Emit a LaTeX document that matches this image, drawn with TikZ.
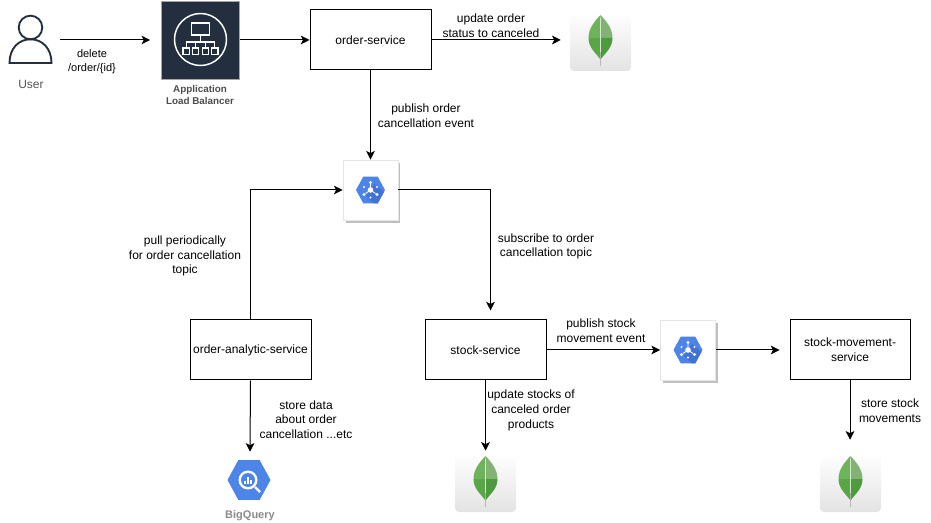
\documentclass[tikz,border=0pt]{standalone}
\usepackage{fontspec}
\setmainfont{Liberation Sans}
\usetikzlibrary{arrows.meta,shapes.geometric,calc}
\definecolor{albnavy}{HTML}{232F3E}
\definecolor{gblue}{HTML}{4D84E8}
\definecolor{gbluedark}{HTML}{4172D6}
\definecolor{gtext}{HTML}{8A8A8A}
\definecolor{usertext}{HTML}{555555}
\definecolor{usericon}{HTML}{232F3E}
\definecolor{leafA}{HTML}{6DB35A}
\definecolor{leafB}{HTML}{5AA548}
\definecolor{leafC}{HTML}{82B274}
\definecolor{leafD}{HTML}{4E9A3F}
\tikzset{
 x=0.75pt,y=-0.75pt,
 every node/.style={font=\fontsize{9}{11}\selectfont,inner sep=0pt,align=center},
 svc/.style={draw=black,line width=0.75pt,fill=white,minimum width=90.75pt,minimum height=45pt},
 flow/.style={draw=black,line width=0.75pt,-{Stealth[length=6.5pt,width=6.5pt,inset=1.6pt]}},
 lbl/.style={text=black},
 ghost/.style={draw=none,fill=none},
 card/.style={draw=black!10,line width=0.6pt,fill=white,minimum width=41.25pt,minimum height=45pt},
 cardshadow/.style={fill=black!25,draw=none},
 mongobox/.style={draw=none,minimum width=45.75pt,minimum height=44.25pt},
}
\newcommand{\hexpath}[3]{%
 ($(#1,#2)+(-#3,0)$) -- ($(#1,#2)+(-#3*0.5,-#3*0.92)$) -- ($(#1,#2)+(#3*0.5,-#3*0.92)$) -- ($(#1,#2)+(#3,0)$) -- ($(#1,#2)+(#3*0.5,#3*0.92)$) -- ($(#1,#2)+(-#3*0.5,#3*0.92)$) -- cycle}
\newcommand{\pubsubicon}[2]{%
 \fill[gblue] \hexpath{#1}{#2}{14.5};
 \begin{scope}
  \clip \hexpath{#1}{#2}{14.5};
  \fill[gbluedark] ($(#1,#2)+(4,-6)$) -- ($(#1,#2)+(16,4)$) -- ($(#1,#2)+(6,16)$) -- ($(#1,#2)+(-4,6)$) -- cycle;
 \end{scope}
 \begin{scope}[shift={(#1,#2)}]
  \draw[white,line width=0.6pt] (0,0) -- (0,-6) (0,0) -- (-5,3.5) (0,0) -- (5,3.5);
  \fill[white] (0,0) circle (2.8) (0,-7.5) circle (1.7) (-6.5,4.5) circle (1.7) (6.5,4.5) circle (1.7)
   (-6.5,-3) circle (1.2) (6.5,-3) circle (1.2) (0,7.5) circle (1.2);
 \end{scope}}
\newcommand{\mongocard}[2]{%
 \begin{scope}[shift={(#1,#2)}]
  \shade[rounded corners=3pt,top color=white,bottom color=black!11] (0,0) rectangle (61,59);
  \draw[black!28,line width=0.75pt] (30.5,40) -- (30.5,54);
  \fill[leafC] (30.5,3) .. controls (36,9) and (42.5,16) .. (42.5,26) -- (30.5,26) -- cycle;
  \fill[leafA] (30.5,3) .. controls (25,9) and (18.5,16) .. (18.5,26) -- (30.5,26) -- cycle;
  \fill[leafD] (42.5,26) .. controls (42.5,36) and (35,41) .. (31,47) -- (30.5,26) -- cycle;
  \fill[leafB] (18.5,26) .. controls (18.5,36) and (26,41) .. (30,47) -- (30.5,26) -- cycle;
  \draw[white!70!leafA,line width=0.5pt] (30.5,6) -- (30.5,40);
 \end{scope}}
\begin{document}
\begin{tikzpicture}
\useasboundingbox (0,0) rectangle (931,523);
% user
\node[ghost,minimum width=43.5pt,minimum height=36pt] (user) at (31,40) {};
\draw[usericon,line width=1.4pt] (30.5,27.5) circle (11.8);
\draw[usericon,line width=1.4pt] (9.5,63) -- (51.5,63) .. controls (51.5,48) and (42,39.3) .. (30.5,39.3) .. controls (19,39.3) and (9.5,48) .. (9.5,63) -- cycle;
\node[text=usertext] (usertxt) at (31,84) {User};
% ALB
\node[fill=albnavy,draw=black!35,line width=0.5pt,minimum width=58.5pt,minimum height=58.5pt] (alb) at (200.5,40) {};
\draw[white,line width=1.1pt] (200.5,39.5) circle (26);
\begin{scope}[shift={(200.5,40)},white,line width=0.9pt]
 \draw (-9,-17) rectangle (9,-5);
 \draw (0,-5) -- (0,2) (-14,8) -- (-14,2) -- (14,2) -- (14,8) (-5,2) -- (-5,8) (5,2) -- (5,8);
 \draw (-17.5,8) rectangle (-11,14.5) (-8,8) rectangle (-2,14.5) (2,8) rectangle (8,14.5) (11,8) rectangle (17.5,14.5);
\end{scope}
\node[text=black!70,font=\fontsize{7.4}{9}\selectfont\bfseries] (albtxt) at (200,95) {Application\\Load Balancer};
% services
\node[svc] (order) at (370.5,40) {order-service};
\node[svc] (analytic) at (250.5,350) {order-analytic-service};
\node[svc] (stock) at (485.5,350) {stock-service};
\node[svc,minimum width=90pt] (movement) at (850,350) {stock-movement-\\service};
% pubsub cards
\fill[cardshadow] (346,163) rectangle (400,223);
\node[card] (ps1) at (370.5,190) {};
\pubsubicon{370.5}{190}
\fill[cardshadow] (663,323) rectangle (718,383);
\node[card] (ps2) at (688,350) {};
\pubsubicon{688}{350}
% mongo
\mongocard{570}{12}
\node[mongobox] (m1) at (600.5,41.5) {};
\mongocard{455}{453}
\node[mongobox] (m2) at (485.5,482.5) {};
\mongocard{820}{453}
\node[mongobox] (m3) at (850.5,482.5) {};
% bigquery
\node[ghost,minimum width=34pt,minimum height=42pt] (bq) at (250,480) {};
\fill[gblue] \hexpath{249}{480}{21.5};
\begin{scope}[shift={(249,480)}]
 \fill[white] (-1,0) circle (9.5);
 \fill[gblue] (-1,0) circle (7);
 \draw[white,line width=1.6pt] (6,7) -- (11,12);
 \draw[white,line width=1pt] (-4,1) -- (-4,4) (-1,-3) -- (-1,4) (2,0) -- (2,4);
\end{scope}
\node[text=gtext,font=\fontsize{8.25}{10}\selectfont\bfseries] (bqtxt) at (250,516) {BigQuery};
% connectors
\path[flow,shorten >=8.25pt] (user) -- (alb);
\path[flow] (alb) -- (order);
\path[flow] (order) -- (ps1);
\path[flow] (analytic.north) |- (ps1.west);
\path[flow] (ps1.east) -| ($(stock.north)+(5,-9)$);
\path[flow] (analytic.south) -- (bq.north);
\path[flow] (stock.south) -- ($(m2.north)+(0,-2)$);
\path[flow] (stock.east) -- (ps2.west);
\path[flow] (ps2.east) -- ($(movement.west)+(-10,0)$);
\path[flow] (movement.south) -- ($(m3.north)+(-0.5,-13)$);
\path[flow] (order.east) -- ($(m1.west)+(-9,-1.5)$);
% labels
\node[lbl,font=\fontsize{8.25}{11}\selectfont] (t1) at (92,61.5) {delete\\/order/\{id\}};
\node[lbl] (t2) at (491,26) {update order\\status to canceled};
\node[lbl] (t3) at (426,115.5) {publish order\\cancellation event};
\node[lbl] (t4) at (185,256) {pull periodically\\for order cancellation\\topic};
\node[lbl] (t5) at (546,246.5) {subscribe to order\\cancellation topic};
\node[lbl] (t6) at (601,331) {publish stock\\movement event};
\node[lbl] (t7) at (531,410.5) {update stocks of\\canceled order\\products};
\node[lbl] (t8) at (306,419.5) {store data\\about order\\cancellation ...etc};
\node[lbl] (t9) at (890,411) {store stock\\movements};
\end{tikzpicture}
\end{document}
